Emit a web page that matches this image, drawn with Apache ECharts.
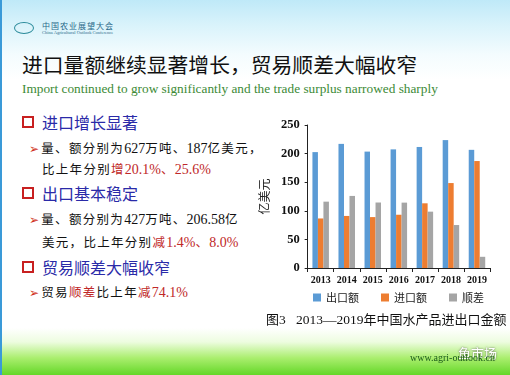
<!DOCTYPE html>
<html>
<head>
<meta charset="UTF-8">
<title>2013—2019年中国水产品进出口金额</title>
<script src="https://cdn.jsdelivr.net/npm/echarts@6/dist/echarts.min.js"></script>
<style>
html, body { margin: 0; padding: 0; }
body {
	width: 510px; height: 375px; position: relative; overflow: hidden;
	font-family: "Noto Sans CJK SC", sans-serif;
	background:
		linear-gradient(to bottom, rgba(255,255,255,0) 0px, rgba(255,255,255,0) 328px, rgba(235,252,220,0.9) 342px, rgba(170,238,110,1) 358px, rgba(100,215,40,1) 375px),
		linear-gradient(to bottom, #bfe9f8 0px, #d9f3fb 25px, #f4fcfe 55px, #ffffff 80px, #ffffff 375px);
}
.edge { position: absolute; left: 0; top: 0; width: 2px; height: 375px; background: #3a9ad8; }
.logo { position: absolute; left: 14px; top: 22px; width: 20px; height: 12px; border: 1.5px solid #2a8a9a; border-radius: 50%; box-sizing: border-box; }
.logo-cn { position: absolute; left: 42px; top: 20px; font-size: 8px; color: #2a6a8a; letter-spacing: 1px; }
.logo-en { position: absolute; left: 42px; top: 30px; font-size: 4.5px; color: #2a6a8a; font-family: "Liberation Serif", serif; }
.title { position: absolute; left: 22px; top: 49px; font-size: 20.8px; color: #111; white-space: nowrap; }
.subtitle { position: absolute; left: 22px; top: 81px; font-size: 13.3px; color: #3c8a36; font-family: "Liberation Serif", serif; white-space: nowrap; }
.head { position: absolute; left: 22px; font-size: 16px; color: #2a2aa8; white-space: nowrap; }
.head .box { display: inline-block; width: 8px; height: 8px; border: 2.5px solid #c82020; margin-right: 8px; vertical-align: 1px; }
.item { position: absolute; left: 29px; font-size: 12.5px; color: #111; white-space: nowrap; letter-spacing: 1.3px; }
.line2 { position: absolute; left: 42px; font-size: 12.5px; color: #111; white-space: nowrap; letter-spacing: 1.3px; }
.arrow { color: #d03020; font-size: 12px; margin-right: 1px; }
.red { color: #c02828; }
.num { font-family: "Liberation Serif", serif; font-size: 14px; letter-spacing: 0; }
#chart { position: absolute; left: 250px; top: 110px; width: 255px; height: 200px; }
.caption { position: absolute; left: 266px; top: 309px; font-size: 13px; color: #111; white-space: nowrap; }
.caption .num { font-size: 13.5px; }
.mark1 { position: absolute; left: 458px; top: 343px; font-size: 13px; color: #fff; text-shadow: 0 0 2px #555; }
.mark2 { position: absolute; left: 410px; top: 352px; font-size: 10px; color: #1a5a1a; font-family: "Liberation Serif", serif; }
</style>
</head>
<body>
	<div class="edge"></div>
	<div class="logo"></div>
	<div class="logo-cn">中国农业展望大会</div>
	<div class="logo-en">China Agricultural Outlook Conference</div>
	<div class="title">进口量额继续显著增长，贸易顺差大幅收窄</div>
	<div class="subtitle">Import continued to grow significantly and the trade surplus narrowed sharply</div>

	<div class="head" style="top:110px;"><span class="box"></span>进口增长显著</div>
	<div class="item" style="top:138px;"><span class="arrow">➢</span>量、额分别为<span class="num">627</span>万吨、<span class="num">187</span>亿美元，</div>
	<div class="line2" style="top:159px;">比上年分别<span class="red">增<span class="num">20.1%</span>、<span class="num">25.6%</span></span></div>

	<div class="head" style="top:181px;"><span class="box"></span>出口基本稳定</div>
	<div class="item" style="top:209px;"><span class="arrow">➢</span>量、额分别为<span class="num">427</span>万吨、<span class="num">206.58</span>亿</div>
	<div class="line2" style="top:232px;">美元，比上年分别<span class="red">减<span class="num">1.4%</span>、<span class="num">8.0%</span></span></div>

	<div class="head" style="top:255px;"><span class="box"></span>贸易顺差大幅收窄</div>
	<div class="item" style="top:282px;"><span class="arrow">➢</span>贸易<span class="red">顺差</span>比上年<span class="red">减<span class="num">74.1%</span></span></div>

	<div id="chart"></div>
	<div class="caption">图<span class="num">3&nbsp;&nbsp; 2013—2019</span>年中国水产品进出口金额</div>
	<div class="mark1">鱼市场</div>
	<div class="mark2">www.agri-outlook.cn</div>

	<script type="text/javascript">
		// 年份和三组数据（亿美元）
		var years = ['2013', '2014', '2015', '2016', '2017', '2018', '2019'];
		var exportValues = [202.6, 217.0, 203.5, 207.4, 211.6, 223.6, 206.58];
		var importValues = [86.6, 91.0, 89.0, 93.1, 113.1, 148.5, 187.0];
		var surplusValues = [116.0, 126.0, 114.5, 114.3, 98.5, 75.1, 19.58];
		var seriesNames = ['出口额', '进口额', '顺差'];
		var barColors = ['#5b9bd5', '#ed7d31', '#a5a5a5'];

		var myChart = echarts.init(document.getElementById('chart'));

		function bar(name, data, color) {
			return {
				name: name,
				type: 'bar',
				data: data,
				barWidth: 5.5,
				barGap: '0%',
				itemStyle: { color: color },
				animation: false
			};
		}

		var option = {
			animation: false,
			grid: { left: 52, right: 15, top: 15, bottom: 42 },
			legend: {
				bottom: 2,
				left: 58,
				itemWidth: 8,
				itemHeight: 8,
				itemGap: 22,
				icon: 'rect',
				textStyle: { fontSize: 11, color: '#222', fontFamily: 'Noto Sans CJK SC' },
				data: seriesNames
			},
			xAxis: {
				type: 'category',
				data: years,
				axisLine: { lineStyle: { color: '#222', width: 1 } },
				axisTick: { show: true, alignWithLabel: false, length: 4, lineStyle: { color: '#222' } },
				axisLabel: {
					interval: 0,
					margin: 7,
					fontSize: 10,
					fontWeight: 'bold',
					color: '#111',
					fontFamily: 'Liberation Serif'
				}
			},
			yAxis: {
				type: 'value',
				min: 0,
				max: 250,
				interval: 50,
				name: '亿美元',
				nameLocation: 'middle',
				nameRotate: 90,
				nameGap: 30,
				nameTextStyle: { fontSize: 12, color: '#222', fontFamily: 'Noto Sans CJK SC' },
				axisLine: { show: true, lineStyle: { color: '#222', width: 1 } },
				axisTick: { show: true, length: 3, lineStyle: { color: '#222' } },
				splitLine: { show: false },
				axisLabel: {
					margin: 8,
					fontSize: 12.5,
					fontWeight: 'bold',
					color: '#111',
					fontFamily: 'Liberation Serif'
				}
			},
			series: [
				bar(seriesNames[0], exportValues, barColors[0]),
				bar(seriesNames[1], importValues, barColors[1]),
				bar(seriesNames[2], surplusValues, barColors[2])
			]
		};

		myChart.setOption(option);
	</script>
</body>
</html>
